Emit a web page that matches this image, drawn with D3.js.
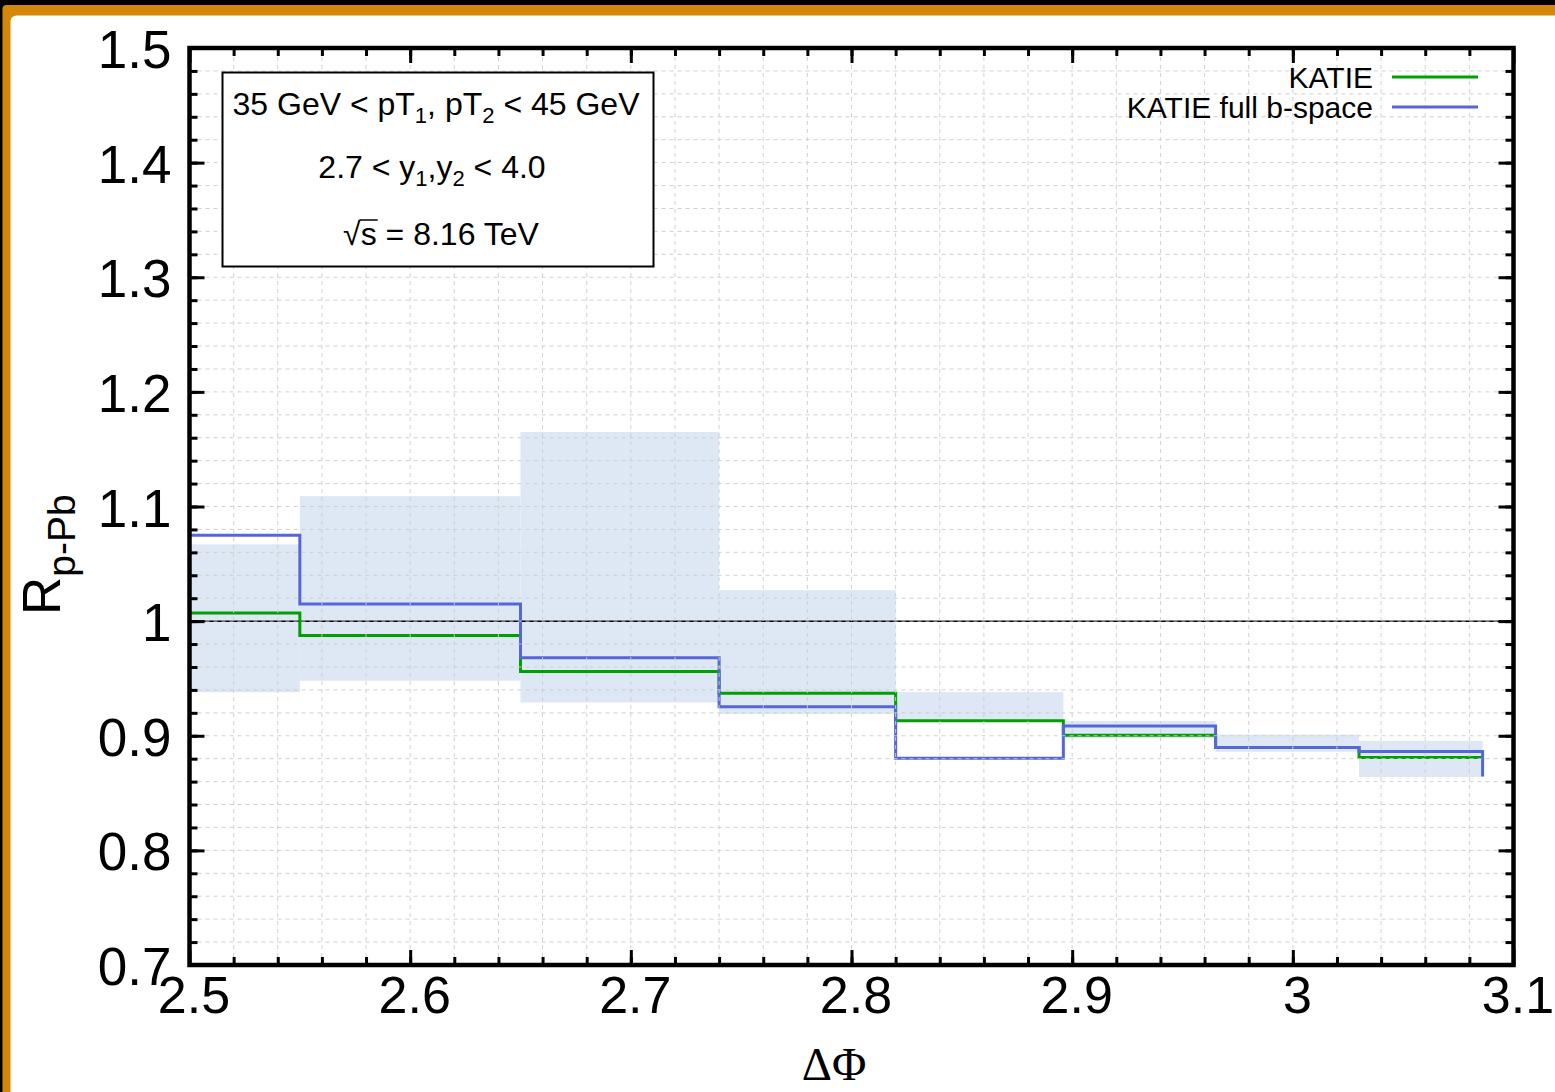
<!DOCTYPE html>
<html>
<head>
<meta charset="utf-8">
<script src="https://cdn.jsdelivr.net/npm/d3@7"></script>
<style>
  html, body { margin: 0; padding: 0; background: #000; }
  svg { display: block; }
  text { font-family: "Liberation Sans", Arial, Helvetica, sans-serif; fill: #000; }
</style>
</head>
<body>
<svg id="chart" width="1555" height="1092"></svg>
<script>
// ΔΦ bin edges (lower edge of each bin, plus the closing edge)
const binEdges = [2.5, 2.55, 2.65, 2.74, 2.82, 2.896, 2.965, 3.03, 3.086];

// R_pPb per bin; the last entry is the closing point of the step line
const katie      = [1.007, 0.9875, 0.956, 0.937, 0.913, 0.9005, 0.8897, 0.881, 0.881];
const katieFullB = [1.075, 1.015, 0.968, 0.9254, 0.8804, 0.9085, 0.8897, 0.8862, 0.8645];

// uncertainty band per bin
const bandLow  = [0.938, 0.948, 0.929, 0.919, 0.9125, 0.898, 0.886, 0.864];
const bandHigh = [1.067, 1.109, 1.165, 1.027, 0.938, 0.913, 0.901, 0.8955];

// axis ticks and their labels
const xTicks = [2.5, 2.6, 2.7, 2.8, 2.9, 3.0, 3.1];
const xTickLabels = ["2.5", "2.6", "2.7", "2.8", "2.9", "3", "3.1"];
const yTicks = [0.7, 0.8, 0.9, 1.0, 1.1, 1.2, 1.3, 1.4, 1.5];
const yTickLabels = ["0.7", "0.8", "0.9", "1", "1.1", "1.2", "1.3", "1.4", "1.5"];

const seriesNames = ["KATIE", "KATIE full b-space"];
const seriesColors = ["#00a000", "#5566d6"];

const svg = d3.select("#chart");
const W = 1555, H = 1092;

// page frame: dark edge, amber rim, white sheet
svg.append("rect").attr("width", W).attr("height", H).attr("fill", "#000");
svg.append("rect").attr("x", 2.5).attr("y", 5).attr("width", W + 20).attr("height", H + 20)
  .attr("rx", 4).attr("fill", "#d4880a");
svg.append("rect").attr("x", 10.5).attr("y", 15.5).attr("width", W + 20).attr("height", H + 20)
  .attr("rx", 6).attr("fill", "#fff");

const x = d3.scaleLinear().domain([2.5, 3.1]).range([189.5, 1513.5]);
const y = d3.scaleLinear().domain([0.7, 1.5]).range([965, 48]);
const [x0, x1] = x.range();
const [y0, y1] = y.range();

const plot = svg.append("g");

// uncertainty band
plot.append("g").selectAll("rect").data(bandLow).join("rect")
  .attr("x", (d, i) => x(binEdges[i]))
  .attr("width", (d, i) => x(binEdges[i + 1]) - x(binEdges[i]))
  .attr("y", (d, i) => y(bandHigh[i]))
  .attr("height", (d, i) => y(bandLow[i]) - y(bandHigh[i]))
  .attr("fill", "#dde8f4");

// reference line at unity
plot.append("line")
  .attr("x1", x0).attr("x2", x1).attr("y1", y(1)).attr("y2", y(1))
  .attr("stroke", "#000").attr("stroke-width", 1.5);

// step lines
const stepLine = d3.line().x((d, i) => x(binEdges[i])).y(d => y(d)).curve(d3.curveStepAfter);
[katie, katieFullB].forEach((s, k) => {
  plot.append("path").attr("d", stepLine(s))
    .attr("fill", "none").attr("stroke", seriesColors[k]).attr("stroke-width", 3);
});

// grid drawn in front of the data
const minorX = x.ticks(30).filter(v => v > 2.5 + 1e-9 && v < 3.1 - 1e-9);
const minorY = y.ticks(40).filter(v => v > 0.7 + 1e-9 && v < 1.5 - 1e-9);
const grid = svg.append("g").attr("stroke", "#cdcdcd").attr("stroke-width", 1)
  .attr("stroke-dasharray", "4,4").attr("opacity", 0.9);
grid.selectAll(".gx").data(minorX).join("line")
  .attr("x1", d => x(d)).attr("x2", d => x(d)).attr("y1", y0).attr("y2", y1);
grid.selectAll(".gy").data(minorY).join("line")
  .attr("y1", d => y(d)).attr("y2", d => y(d)).attr("x1", x0).attr("x2", x1);

// text box with the kinematic cuts
const box = svg.append("g");
box.append("rect").attr("x", 222.5).attr("y", 72.5).attr("width", 431).attr("height", 194)
  .attr("fill", "#fff").attr("stroke", "#000").attr("stroke-width", 2);
const bx = 436;
const fs = 32, sub = 22, sh = 8;
const t1 = box.append("text").attr("x", bx).attr("y", 115).attr("text-anchor", "middle")
  .style("font-size", fs + "px");
t1.append("tspan").text("35 GeV < pT");
t1.append("tspan").attr("dy", sh).style("font-size", sub + "px").text("1");
t1.append("tspan").attr("dy", -sh).text(", pT");
t1.append("tspan").attr("dy", sh).style("font-size", sub + "px").text("2");
t1.append("tspan").attr("dy", -sh).text(" < 45 GeV");

const t2 = box.append("text").attr("x", bx - 4).attr("y", 178).attr("text-anchor", "middle")
  .style("font-size", fs + "px");
t2.append("tspan").text("2.7 < y");
t2.append("tspan").attr("dy", sh).style("font-size", sub + "px").text("1");
t2.append("tspan").attr("dy", -sh).text(",y");
t2.append("tspan").attr("dy", sh).style("font-size", sub + "px").text("2");
t2.append("tspan").attr("dy", -sh).text(" < 4.0");

const t3 = box.append("text").attr("x", bx + 5).attr("y", 245).attr("text-anchor", "middle")
  .style("font-size", fs + "px").text("\u221As = 8.16 TeV");
const sExt = t3.node().getExtentOfChar(1);
box.append("line").attr("x1", sExt.x - 1).attr("x2", sExt.x + sExt.width + 1)
  .attr("y1", 245 - 25).attr("y2", 245 - 25).attr("stroke", "#000").attr("stroke-width", 1.5);

// legend
const legend = svg.append("g");
seriesNames.forEach((name, k) => {
  const ly = 77 + k * 30;
  legend.append("text").attr("x", 1373).attr("y", ly + 11).attr("text-anchor", "end")
    .style("font-size", "30px").text(name);
  legend.append("line").attr("x1", 1392).attr("x2", 1478).attr("y1", ly).attr("y2", ly)
    .attr("stroke", seriesColors[k]).attr("stroke-width", 3);
});

// axes: inward ticks on all four sides
function styleAxis(g) {
  g.select(".domain").remove();
  g.selectAll(".tick line").attr("stroke", "#000").attr("stroke-width", 3);
}
const majorLen = 15, minorLen = 8;

svg.append("g").attr("transform", `translate(0,${y0})`)
  .call(d3.axisBottom(x).tickValues(minorX).tickSize(-minorLen).tickFormat(""))
  .call(styleAxis);
svg.append("g").attr("transform", `translate(0,${y1})`)
  .call(d3.axisTop(x).tickValues(minorX).tickSize(-minorLen).tickFormat(""))
  .call(styleAxis);
svg.append("g").attr("transform", `translate(${x0},0)`)
  .call(d3.axisLeft(y).tickValues(minorY).tickSize(-minorLen).tickFormat(""))
  .call(styleAxis);
svg.append("g").attr("transform", `translate(${x1},0)`)
  .call(d3.axisRight(y).tickValues(minorY).tickSize(-minorLen).tickFormat(""))
  .call(styleAxis);

const xAxis = svg.append("g").attr("transform", `translate(0,${y0})`)
  .call(d3.axisBottom(x).tickValues(xTicks).tickSize(-majorLen).tickFormat((d, i) => xTickLabels[i]))
  .call(styleAxis);
xAxis.selectAll(".tick text").attr("y", 48).attr("dy", null).attr("x", 4)
  .style("font-size", "52px").attr("fill", "#000");
svg.append("g").attr("transform", `translate(0,${y1})`)
  .call(d3.axisTop(x).tickValues(xTicks).tickSize(-majorLen).tickFormat(""))
  .call(styleAxis);

const yAxis = svg.append("g").attr("transform", `translate(${x0},0)`)
  .call(d3.axisLeft(y).tickValues(yTicks).tickSize(-majorLen).tickFormat((d, i) => yTickLabels[i]))
  .call(styleAxis);
yAxis.selectAll(".tick text").attr("x", -18).attr("dy", null).attr("y", 19.5)
  .style("font-size", "53px").attr("fill", "#000");
svg.append("g").attr("transform", `translate(${x1},0)`)
  .call(d3.axisRight(y).tickValues(yTicks).tickSize(-majorLen).tickFormat(""))
  .call(styleAxis);

// frame
svg.append("rect").attr("x", x0).attr("y", y1).attr("width", x1 - x0).attr("height", y0 - y1)
  .attr("fill", "none").attr("stroke", "#000").attr("stroke-width", 4.5);

// axis titles
svg.append("text").attr("x", 834).attr("y", 1080).attr("text-anchor", "middle")
  .style("font-family", "'Liberation Serif', 'Times New Roman', serif").style("font-size", "47px")
  .text("\u0394\u03A6");

const yt = svg.append("text").attr("transform", "translate(60,615) rotate(-90)")
  .style("font-size", "53px");
yt.append("tspan").text("R");
yt.append("tspan").attr("dy", 15).style("font-size", "39px").text("p-Pb");
</script>
</body>
</html>
